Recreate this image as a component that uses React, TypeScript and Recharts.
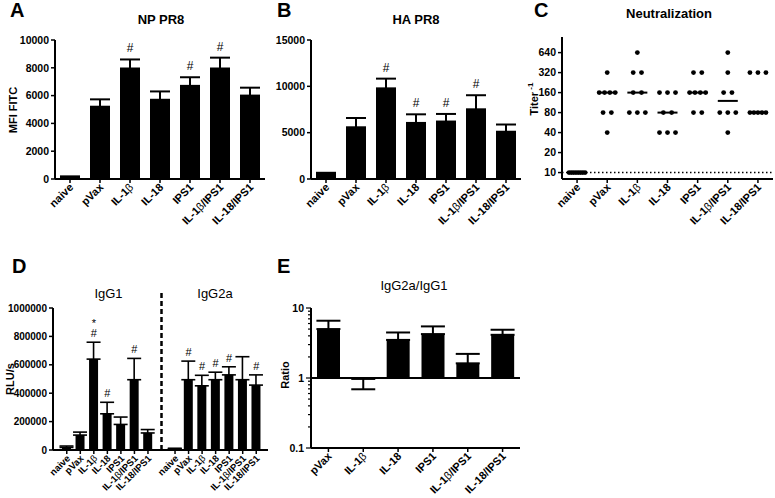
import React from 'react';
import {
  ComposedChart, Bar, Line, Scatter, XAxis, YAxis, ErrorBar, LabelList, ReferenceLine,
} from 'recharts';

const FONT = '"Liberation Sans", Arial, Helvetica, sans-serif';

// groups used in A-D
const groups = ['naive', 'pVax', 'IL-1β', 'IL-18', 'IPS1', 'IL-1β/IPS1', 'IL-18/IPS1'];

// A: NP PR8 (MFI FITC), mean + upper SEM
const npMean = [130, 5200, 7950, 5700, 6700, 7950, 6000];
const npErr = [60, 530, 650, 600, 620, 780, 570];
const npSig = ['', '', '#', '', '#', '#', ''];
const npTicks = [0, 2000, 4000, 6000, 8000, 10000];

// B: HA PR8
const haMean = [550, 5580, 9780, 6050, 6200, 7520, 5100];
const haErr = [120, 1000, 1050, 930, 820, 1520, 780];
const haSig = ['', '', '#', '#', '#', '#', ''];
const haTicks = [0, 5000, 10000, 15000];

// C: neutralization titers per mouse
const neutTiters = [
  [10, 10, 10, 10, 10, 10, 10, 10],
  [320, 160, 160, 160, 160, 80, 80, 40],
  [640, 320, 320, 160, 160, 80, 80, 80],
  [160, 160, 160, 80, 80, 40, 40, 40],
  [320, 320, 160, 160, 160, 160, 80, 80],
  [640, 320, 160, 160, 80, 80, 80, 40],
  [320, 320, 320, 80, 80, 80, 80, 80],
];
const neutSig = ['', '#', '#', '', '#', '#', '#'];
const neutTicks = [10, 20, 40, 80, 160, 320, 640];

// D: IgG1 / IgG2a (RLU/s)
const igg1Mean = [18000, 105000, 640000, 255000, 180000, 495000, 120000];
const igg1Err = [10000, 21000, 119000, 81000, 52000, 150000, 24000];
const igg1Sig = ['', '', '*#', '#', '', '#', ''];
const igg2aMean = [9000, 495000, 452000, 495000, 529000, 495000, 457000];
const igg2aErr = [3000, 131000, 74000, 53000, 57000, 162000, 72000];
const igg2aSig = ['', '#', '#', '#', '#', '', '#'];
const igTicks = [0, 200000, 400000, 600000, 800000, 1000000];

// E: IgG2a/IgG1 ratio, signed error (negative = drawn downward)
const ratioGroups = ['pVax', 'IL-1β', 'IL-18', 'IPS1', 'IL-1β/IPS1', 'IL-18/IPS1'];
const ratioMean = [5.0, 0.97, 3.5, 4.24, 1.62, 4.14];
const ratioErr = [1.58, -0.28, 0.97, 1.22, 0.59, 0.75];
const ratioTicks = [0.1, 0.2, 0.3, 0.4, 0.5, 0.6, 0.7, 0.8, 0.9, 1, 2, 3, 4, 5, 6, 7, 8, 9, 10];
const ratioMajor = [0.1, 1, 10];

const axisStyle = { stroke: '#000', strokeWidth: 2 };
const tickLineStyle = { stroke: '#000', strokeWidth: 1.5 };
const yTickStyle = { fill: '#000', fontSize: 10.5, fontWeight: 'bold', fontFamily: FONT };

const barRows = (mean: number[], err: number[], sig: string[]) =>
  groups.map((name, i) => ({ name, mean: mean[i], err: [0, err[i]], top: mean[i] + err[i], sig: sig[i] }));

const npRows = barRows(npMean, npErr, npSig);
const haRows = barRows(haMean, haErr, haSig);

const igRows: any[] = [
  ...groups.map((name, i) => ({ key: 'g1-' + i, name, mean: igg1Mean[i], err: [0, igg1Err[i]], top: igg1Mean[i] + igg1Err[i], sig: igg1Sig[i] })),
  { key: 'gap', name: '' },
  ...groups.map((name, i) => ({ key: 'g2-' + i, name, mean: igg2aMean[i], err: [0, igg2aErr[i]], top: igg2aMean[i] + igg2aErr[i], sig: igg2aSig[i] })),
];
const igName: Record<string, string> = Object.fromEntries(igRows.map((r) => [r.key, r.name]));

const ratioRows = ratioGroups.map((name, i) => ({
  name,
  ratio: ratioMean[i],
  err: ratioErr[i] > 0 ? [0, ratioErr[i]] : [-ratioErr[i], 0],
}));

// spread dots sharing a value sideways, like a scatter dot plot
const neutPoints = neutTiters.flatMap((vals, gi) => {
  const counts: Record<number, number> = {};
  vals.forEach((v) => { counts[v] = (counts[v] || 0) + 1; });
  const seen: Record<number, number> = {};
  return vals.map((v) => {
    const k = counts[v];
    const j = seen[v] || 0;
    seen[v] = j + 1;
    const step = k > 1 ? Math.min(8.3, 16 / (k - 1)) : 0;
    return { x: gi, y: v, dx: (j - (k - 1) / 2) * step };
  });
});
const neutMedians = neutTiters.map((vals, gi) => {
  const s = [...vals].sort((a, b) => a - b);
  const m = s.length / 2;
  return { x: gi, y: s.length % 2 ? s[Math.floor(m)] : (s[m - 1] + s[m]) / 2 };
});

function renderLabel(s: string) {
  const parts = s.split('β');
  return parts.flatMap((part, i) =>
    i < parts.length - 1 ? [part, <tspan key={i} fontWeight="normal">β</tspan>] : [part]);
}

const angledTick = (labelOf: (v: any) => string, size: number, mark: boolean) => (p: any) => {
  const { x, y, payload } = p;
  const label = labelOf(payload.value) || '';
  return (
    <g>
      {mark && label !== '' && <line x1={x} x2={x} y1={y - 6} y2={y - 2} stroke="#000" strokeWidth={1.5} />}
      <text transform={`translate(${x + 4},${y + 3}) rotate(-45)`} textAnchor="end" fontSize={size} fontWeight="bold"
        fontFamily={FONT} fill="#000">
        {renderLabel(label)}
      </text>
    </g>
  );
};

const sigLabel = (gap: number, size: number, step: number) => (p: any) => {
  const { x, y, value } = p;
  if (!value || y == null || isNaN(y)) return null;
  const chars = String(value).split('').reverse();
  return (
    <g>
      {chars.map((c, k) => (
        <text key={k} x={x} y={y - gap - k * step} textAnchor="middle" fontSize={size} fontFamily={FONT} fill="#000">{c}</text>
      ))}
    </g>
  );
};

const LogTick = (p: any) => {
  const v = p.payload.value;
  const major = ratioMajor.includes(v);
  const ax = p.x + 7;
  return (
    <g>
      <line x1={ax - (major ? 5 : 3)} x2={ax} y1={p.y} y2={p.y} stroke="#000" strokeWidth={1.2} />
      {major && (
        <text x={ax - 7} y={p.y} dy={3.5} textAnchor="end" fontSize={10.5} fontWeight="bold" fontFamily={FONT} fill="#000">{v}</text>
      )}
    </g>
  );
};

function BarPanel({ rows, max, ticks, yw, mr }: any) {
  return (
    <ComposedChart width={275} height={250} data={rows} margin={{ top: 40, right: mr, bottom: 0, left: 0 }}>
      <XAxis dataKey="name" interval={0} height={71} axisLine={axisStyle} tickLine={false} tickSize={4} tickMargin={2}
        tick={angledTick((v) => v, 11, true)} />
      <YAxis width={yw} domain={[0, max]} ticks={ticks} interval={0} allowDataOverflow axisLine={axisStyle}
        tickLine={tickLineStyle} tickSize={4} tickMargin={2} tick={yTickStyle} />
      <Bar dataKey="mean" fill="#000" barSize={20} isAnimationActive={false}>
        <ErrorBar dataKey="err" width={10} stroke="#000" strokeWidth={2} direction="y" />
      </Bar>
      <Line dataKey="top" stroke="none" dot={false} activeDot={false} isAnimationActive={false}>
        <LabelList dataKey="sig" content={sigLabel(7, 12, 11)} />
      </Line>
    </ComposedChart>
  );
}

function NeutPanel() {
  const idx = groups.map((_, i) => i);
  return (
    <ComposedChart width={265} height={250} margin={{ top: 17, right: 2, bottom: 0, left: 0 }}>
      <XAxis xAxisId="sig" orientation="top" type="number" domain={[-0.5, 6.5]} ticks={idx} interval={0}
        allowDataOverflow height={20} axisLine={false} tickLine={false} tickSize={0} tickMargin={0}
        tickFormatter={(i: number) => neutSig[i]} tick={{ fill: '#000', fontSize: 12, fontFamily: FONT }} />
      <XAxis dataKey="x" type="number" domain={[-0.5, 6.5]} ticks={idx} interval={0} allowDataOverflow height={71}
        axisLine={axisStyle} tickLine={false} tickSize={4} tickMargin={2}
        tick={angledTick((v) => groups[v], 11, true)} />
      <YAxis dataKey="y" type="number" scale="log" domain={[8, 1100]} ticks={neutTicks} interval={0} allowDataOverflow
        width={52} axisLine={axisStyle} tickLine={tickLineStyle} tickSize={4} tickMargin={2} tick={yTickStyle} />
      <ReferenceLine y={10} stroke="#000" strokeWidth={1.5} strokeDasharray="1.5 2.5" />
      <Scatter data={neutMedians} isAnimationActive={false}
        shape={(p: any) => <line x1={p.cx - 10} x2={p.cx + 10} y1={p.cy} y2={p.cy} stroke="#000" strokeWidth={2} />} />
      <Scatter data={neutPoints} isAnimationActive={false}
        shape={(p: any) => <circle cx={p.cx + p.payload.dx} cy={p.cy} r={2.4} fill="#000" />} />
    </ComposedChart>
  );
}

function IgPanel() {
  return (
    <ComposedChart width={280} height={238} data={igRows} margin={{ top: 48, right: 12, bottom: 0, left: 0 }}>
      <XAxis dataKey="key" interval={0} height={48} padding={{ left: 7, right: 5 }} axisLine={axisStyle} tickLine={false}
        tickSize={4} tickMargin={2} tick={angledTick((v) => igName[v], 9.5, true)} />
      <YAxis width={53} domain={[0, 1000000]} ticks={igTicks} interval={0} allowDataOverflow axisLine={axisStyle}
        tickLine={tickLineStyle} tickSize={4} tickMargin={2} tick={{ ...yTickStyle, fontSize: 10 }} />
      <ReferenceLine segment={[{ x: 'gap', y: 0 }, { x: 'gap', y: 1125000 }]} ifOverflow="visible"
        stroke="#000" strokeWidth={2.5} strokeDasharray="5 3" />
      <Bar dataKey="mean" fill="#000" barSize={9} isAnimationActive={false}>
        <ErrorBar dataKey="err" width={7} stroke="#000" strokeWidth={1.6} direction="y" />
      </Bar>
      <Line dataKey="top" stroke="none" dot={false} activeDot={false} isAnimationActive={false}>
        <LabelList dataKey="sig" content={sigLabel(5, 11, 10.5)} />
      </Line>
    </ComposedChart>
  );
}

function RatioPanel() {
  return (
    <ComposedChart width={260} height={238} data={ratioRows} margin={{ top: 48, right: 10, bottom: 0, left: 0 }}>
      <XAxis dataKey="name" interval={0} height={50} axisLine={axisStyle} tickLine={false} tickSize={4} tickMargin={2}
        tick={angledTick((v) => v, 11, true)} />
      <YAxis type="number" scale="log" domain={[0.1, 10]} ticks={ratioTicks} interval={0} allowDataOverflow width={41}
        axisLine={axisStyle} tickLine={false} tickSize={5} tickMargin={2} tick={<LogTick />} />
      <Bar dataKey={(d: any) => [Math.min(1, d.ratio), Math.max(1, d.ratio)]} fill="#000" barSize={23} isAnimationActive={false} />
      <ReferenceLine y={1} stroke="#000" strokeWidth={2} />
      <Line dataKey="ratio" stroke="none" dot={false} activeDot={false} isAnimationActive={false}>
        <ErrorBar dataKey="err" width={12} stroke="#000" strokeWidth={2} direction="y" />
      </Line>
    </ComposedChart>
  );
}

function YTitle({ x, y, text, sup }: { x: number; y: number; text: string; sup?: string }) {
  return (
    <text transform={`translate(${x},${y}) rotate(-90)`} textAnchor="middle" dominantBaseline="central"
      fontSize={11} fontWeight="bold" fill="#000">
      {text}
      {sup ? <tspan dy={-4} fontSize={8}>{sup}</tspan> : null}
    </text>
  );
}

export default function App() {
  const letter = { fontSize: 20, fontWeight: 'bold' as const, fill: '#000' };
  const title = { fontSize: 13, fontWeight: 'bold' as const, fill: '#000', textAnchor: 'middle' as const };
  const titleLight = { fontSize: 13, fill: '#000', textAnchor: 'middle' as const };
  return (
    <div style={{ position: 'absolute', left: 0, top: 0, width: 775, height: 498, background: '#fff', fontFamily: FONT, overflow: 'hidden' }}>
      <div style={{ position: 'absolute', left: 0, top: 0 }}>
        <BarPanel rows={npRows} max={10000} ticks={npTicks} yw={55} mr={10} />
      </div>
      <div style={{ position: 'absolute', left: 255, top: 0 }}>
        <BarPanel rows={haRows} max={15000} ticks={haTicks} yw={56} mr={9} />
      </div>
      <div style={{ position: 'absolute', left: 510, top: 0 }}>
        <NeutPanel />
      </div>
      <div style={{ position: 'absolute', left: 0, top: 260 }}>
        <IgPanel />
      </div>
      <div style={{ position: 'absolute', left: 270, top: 260 }}>
        <RatioPanel />
      </div>
      <svg width={775} height={498} style={{ position: 'absolute', left: 0, top: 0, pointerEvents: 'none', fontFamily: FONT }}>
        <text x={10} y={17} {...letter}>A</text>
        <text x={277} y={17} {...letter}>B</text>
        <text x={534} y={17} {...letter}>C</text>
        <text x={12} y={273} {...letter}>D</text>
        <text x={277} y={273} {...letter}>E</text>
        <text x={161} y={24} {...title}>NP PR8</text>
        <text x={416} y={24} {...title}>HA PR8</text>
        <text x={669} y={18} {...title}>Neutralization</text>
        <text x={108.5} y={298} {...titleLight}>IgG1</text>
        <text x={215} y={298} {...titleLight}>IgG2a</text>
        <text x={414} y={290} {...titleLight}>IgG2a/IgG1</text>
        <YTitle x={13} y={110} text="MFI FITC" />
        <YTitle x={534} y={99} text="Titer" sup=" -1" />
        <YTitle x={10} y={379} text="RLU/s" />
        <YTitle x={285} y={375} text="Ratio" />
      </svg>
    </div>
  );
}
